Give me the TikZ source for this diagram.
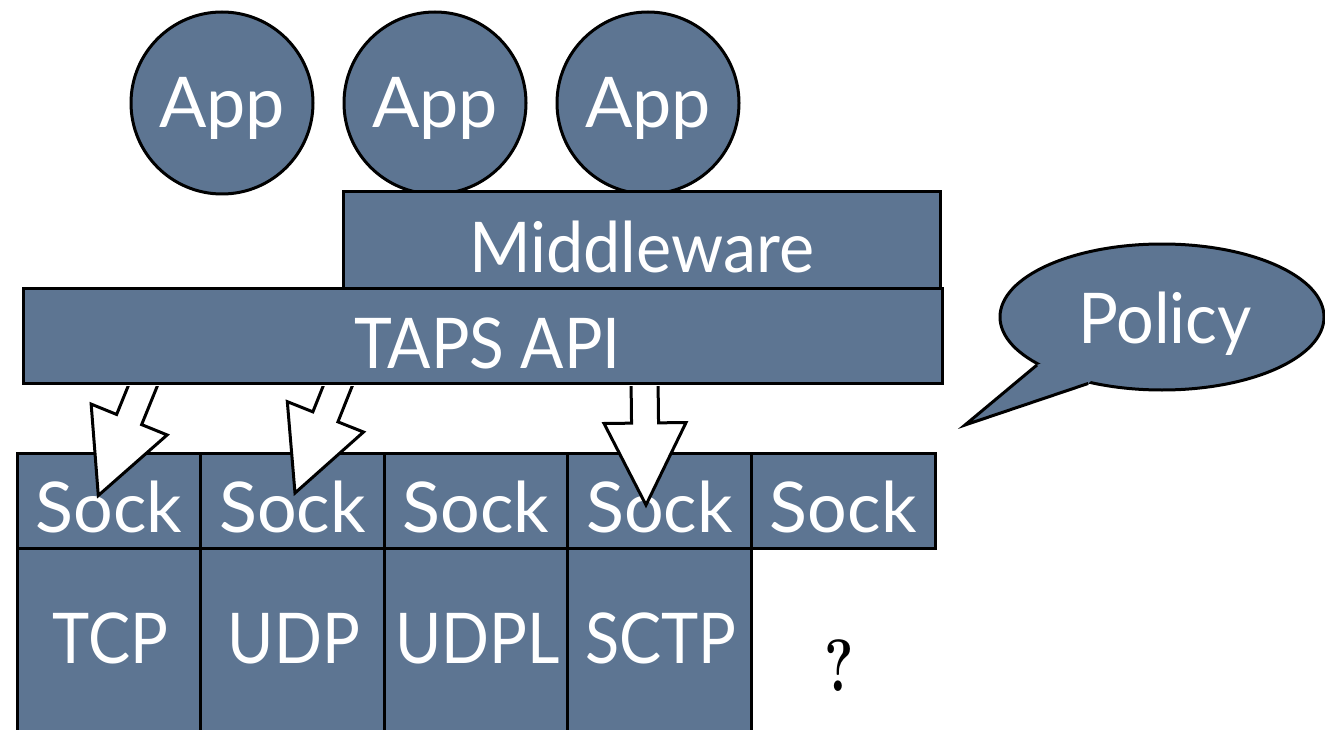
\documentclass[tikz,border=0pt]{standalone}
\usepackage{fontspec}
\setmainfont{Lato}
\newfontfamily\qmarkfont{Latin Modern Roman}
\usetikzlibrary{calc,shapes.geometric}

\definecolor{slate}{RGB}{93,117,146}

% white block arrow from #1 (tail) to #2 (tip)
\newcommand\blockarrow[2]{%
  \filldraw[blockarr]
    ($(#1)!13.5pt!90:(#2)$)
    -- ($(#2)!82pt!(#1)!13.5pt!-90:(#1)$)
    -- ($(#2)!82pt!(#1)!41pt!-90:(#1)$)
    -- (#2)
    -- ($(#2)!82pt!(#1)!41pt!90:(#1)$)
    -- ($(#2)!82pt!(#1)!13.5pt!90:(#1)$)
    -- ($(#1)!13.5pt!-90:(#2)$)
    -- cycle;}

\tikzset{
  outline/.style={draw=black, line width=3pt, fill=slate},
  box/.style={outline, rectangle, inner sep=0pt, minimum width=#1},
  app/.style={outline, circle, inner sep=0pt, minimum size=182pt},
  lbl/.style={text=white, anchor=base, inner sep=0pt,
    font=\fontsize{70}{84}\selectfont},
  blockarr/.style={draw=black, fill=white, line width=3pt, line join=miter},
}

\begin{document}
\begin{tikzpicture}[x=1pt, y=-1pt]
\useasboundingbox (0,0) rectangle (1325,730);

% applications
\foreach \i/\x in {1/222, 2/435, 3/648} {
  \node[app] (app\i) at (\x,103) {};
  \node[lbl] (app\i t) at ([yshift=-25pt]app\i.center) {App};
}

% middleware and API layers
\node[box=597pt, minimum height=96pt] (mw) at (641.5,240) {};
\node[lbl, xscale=0.95] (mwt) at ([yshift=-32pt]mw.center) {Middleware};
\node[box=919pt, minimum height=95pt] (taps) at (482.5,335.5) {};
\node[lbl, xscale=0.915] (tapst) at ([xshift=5pt, yshift=-32.5pt]taps.center) {TAPS API};

% sockets
\foreach \i in {1,...,5} {
  \node[box=183.6pt, minimum height=95pt] (sock\i) at ({17+91.8+183.6*(\i-1)},500.5) {};
  \node[lbl] (sock\i t) at ([yshift=-31.5pt]sock\i.center) {Sock};
}

% transport protocols
\foreach \i/\name in {1/TCP, 2/UDP, 3/UDPL, 4/SCTP} {
  \node[box=183.6pt, minimum height=192pt] (proto\i) at ({17+91.8+183.6*(\i-1)},644) {};
  \node[lbl, xscale=0.9] (proto\i t) at ([xshift=1.5pt, yshift=-19pt]proto\i.center) {\name};
}
\node[font=\qmarkfont\bfseries\fontsize{74}{80}\selectfont, inner sep=0pt, xscale=0.75] (unknown) at (839,666) {?};

% policy speech bubble
\node[outline, ellipse, inner sep=0pt, minimum width=324pt, minimum height=146pt] (policy) at (1162,317) {};
\coordinate (ptip) at (965,425);
\fill[slate] (policy.201.5) -- (ptip) -- (policy.222.5) -- (policy.center) -- cycle;
\draw[line width=3pt, line join=miter] (policy.201.5) -- (ptip) -- (policy.222.5);
\node[lbl, xscale=0.95] (policyt) at ([xshift=3pt, yshift=-26pt]policy.center) {Policy};

% API calls reaching individual sockets
\coordinate (c1from) at ($(taps.south west)+(124.7,-7)$);
\coordinate (c1to)   at ($(sock1.center)+(-10.5,-5)$);
\coordinate (c2from) at ($(taps.south west)+(319.6,-7)$);
\coordinate (c2to)   at ($(sock2.center)+(2.6,-7.5)$);
\coordinate (c3from) at ($(taps.south west)+(623,-7)$);
\coordinate (c3to)   at ($(sock4.center)+(-13.6,4.5)$);
\begin{scope}
  \clip ([yshift=-1.5pt]taps.south west) rectangle (1325,730);
  \blockarrow{c1from}{c1to}
  \blockarrow{c2from}{c2to}
  \blockarrow{c3from}{c3to}
\end{scope}
\end{tikzpicture}
\end{document}
